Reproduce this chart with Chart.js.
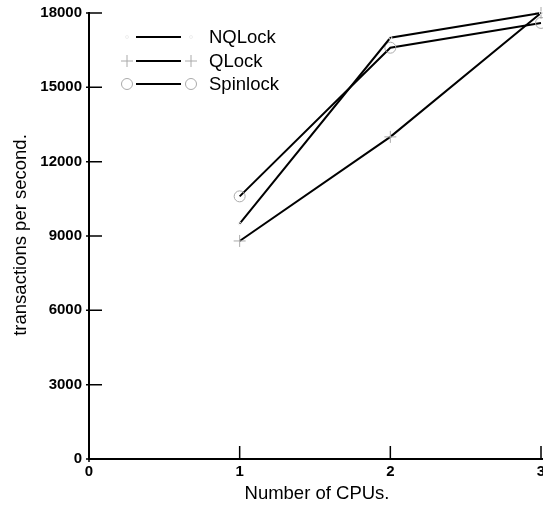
<!DOCTYPE html>
<html>
<head>
<meta charset="utf-8">
<script src="https://cdn.jsdelivr.net/npm/chart.js@4.4.0/dist/chart.umd.min.js"></script>
<style>
  html, body { margin: 0; padding: 0; background: #fff; }
  #wrap { width: 543px; height: 511px; }
</style>
</head>
<body>
<div id="wrap"><canvas id="lockChart" width="543" height="511"></canvas></div>
<script>
// CPU counts and throughput per lock type
const cpus = [1, 2, 3];
const nqlock = [9500, 17000, 18000];
const qlock = [8800, 13000, 18000];
const spinlock = [10600, 16600, 17600];
const xTicks = [0, 1, 2, 3];
const yTicks = [0, 3000, 6000, 9000, 12000, 15000, 18000];

const FONT = '"Liberation Sans", Arial, sans-serif';
const MARK = '#aaaaaa';

function toPoints(values) {
    return cpus.map((c, i) => ({ x: c, y: values[i] }));
}

// axes are drawn by hand so the ticks can point inward
const axesPlugin = {
    id: 'plotAxes',
    afterDraw(chart) {
        const { ctx, chartArea: { left, right, top, bottom }, scales: { x, y } } = chart;
        ctx.save();
        ctx.strokeStyle = '#000';
        ctx.lineWidth = 2;
        ctx.beginPath();
        ctx.moveTo(left, top - 1);
        ctx.lineTo(left, bottom + 1);
        ctx.moveTo(left - 1, bottom);
        ctx.lineTo(chart.width, bottom);
        ctx.stroke();

        ctx.lineWidth = 1.5;
        ctx.beginPath();
        yTicks.forEach(v => {
            const py = y.getPixelForValue(v);
            ctx.moveTo(left - 3, py);
            ctx.lineTo(left + 13, py);
        });
        xTicks.forEach(v => {
            const px = x.getPixelForValue(v);
            ctx.moveTo(px, bottom + (v === 0 ? 3 : 0));
            ctx.lineTo(px, bottom - 13);
        });
        ctx.stroke();

        ctx.fillStyle = '#000';
        ctx.font = 'bold 15px ' + FONT;
        ctx.textAlign = 'right';
        ctx.textBaseline = 'middle';
        yTicks.forEach(v => ctx.fillText(String(v), left - 7, y.getPixelForValue(v)));
        ctx.textAlign = 'center';
        ctx.textBaseline = 'top';
        xTicks.forEach(v => ctx.fillText(String(v), x.getPixelForValue(v), bottom + 5));

        ctx.font = '18.5px ' + FONT;
        ctx.textBaseline = 'middle';
        ctx.fillText('Number of CPUs.', (left + right) / 2 + 2, 494);
        ctx.translate(21, 235);
        ctx.rotate(-Math.PI / 2);
        ctx.fillText('transactions per second.', 0, 0);
        ctx.restore();
    }
};

// legend: short line with a marker on both ends, then the name
const legendPlugin = {
    id: 'plotLegend',
    afterDraw(chart) {
        const { ctx } = chart;
        const rows = [37, 61, 84];
        ctx.save();
        chart.data.datasets.forEach((ds, i) => {
            const yy = rows[i];
            ctx.strokeStyle = '#000';
            ctx.lineWidth = 2;
            ctx.beginPath();
            ctx.moveTo(136, yy);
            ctx.lineTo(181, yy);
            ctx.stroke();
            ctx.strokeStyle = ds.pointBorderColor;
            ctx.fillStyle = 'rgba(0,0,0,0)';
            ctx.lineWidth = ds.pointBorderWidth;
            [127, 191].forEach(px => {
                Chart.helpers.drawPoint(ctx, {
                    pointStyle: ds.pointStyle,
                    radius: ds.pointRadius,
                    borderWidth: ds.pointBorderWidth
                }, px, yy);
            });
            ctx.fillStyle = '#000';
            ctx.font = '18.5px ' + FONT;
            ctx.textAlign = 'left';
            ctx.textBaseline = 'middle';
            ctx.fillText(ds.label, 209, yy + 1);
        });
        ctx.restore();
    }
};

function series(label, values, style, radius, color) {
    return {
        label,
        data: toPoints(values),
        borderColor: '#000',
        borderWidth: 2,
        pointStyle: style,
        pointRadius: radius,
        pointHoverRadius: radius,
        pointBorderColor: color,
        pointBackgroundColor: 'rgba(0,0,0,0)',
        pointBorderWidth: 1,
        tension: 0,
        fill: false,
        clip: false
    };
}

new Chart(document.getElementById('lockChart'), {
    type: 'line',
    data: {
        datasets: [
            series('NQLock', nqlock, 'circle', 1.5, '#eeeeee'),
            series('QLock', qlock, 'cross', 6, MARK),
            series('Spinlock', spinlock, 'circle', 5.5, MARK)
        ]
    },
    options: {
        responsive: false,
        animation: false,
        events: [],
        layout: { autoPadding: false, padding: { left: 89, right: 2, top: 13, bottom: 52 } },
        plugins: {
            legend: { display: false },
            tooltip: { enabled: false }
        },
        scales: {
            x: { type: 'linear', display: false, min: 0, max: 3 },
            y: { type: 'linear', display: false, min: 0, max: 18000 }
        }
    },
    plugins: [axesPlugin, legendPlugin]
});
</script>
</body>
</html>
